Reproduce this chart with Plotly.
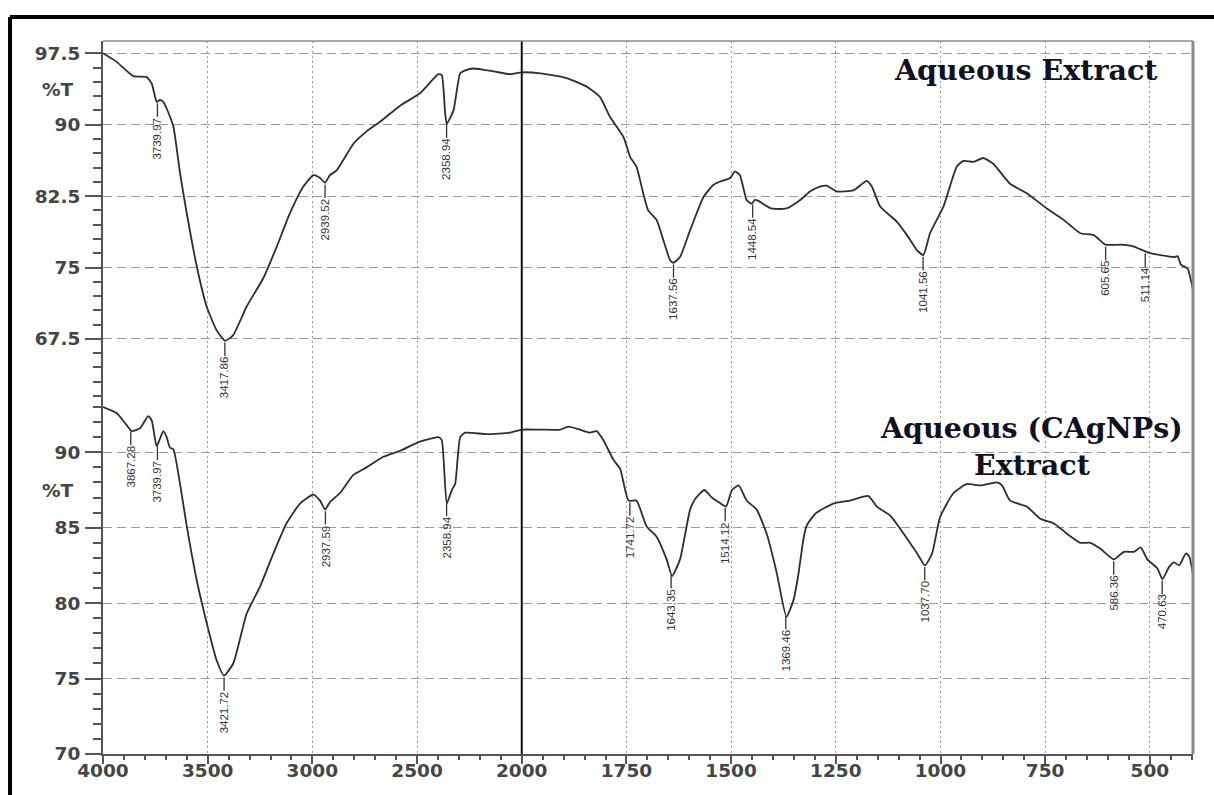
import numpy as np
import plotly.graph_objects as go

# ---------------- data ----------------
top_wn = [4000, 3935, 3855, 3791, 3767, 3752, 3744, 3728, 3712, 3696, 3664, 3632, 3600, 3552, 3505,
          3457, 3417, 3378, 3314, 3234, 3170, 3107, 3043, 2995, 2963, 2940, 2916, 2884, 2852, 2804,
          2741, 2677, 2581, 2486, 2398, 2382, 2366, 2358, 2326, 2294, 2270, 2231, 2135, 2055, 2000,
          1956, 1893, 1845, 1813, 1789, 1757, 1741, 1726, 1710, 1698, 1678, 1662, 1646, 1638, 1622,
          1598, 1566, 1542, 1522, 1502, 1491, 1479, 1463, 1451, 1443, 1435, 1404, 1368, 1335, 1311,
          1288, 1272, 1248, 1208, 1176, 1164, 1144, 1104, 1080, 1056, 1041, 1025, 993, 961, 945,
          921, 898, 874, 834, 794, 746, 706, 666, 634, 606, 570, 538, 506, 474, 442, 434, 426, 410, 397]
top_T = [97.5, 96.6, 95.1, 95.0, 94.3, 93.0, 92.4, 92.6, 92.4, 91.7, 89.8, 84.9, 80.7, 75.1, 70.9,
         68.4, 67.3, 67.9, 70.9, 73.9, 77.2, 80.7, 83.5, 84.7, 84.4, 83.9, 84.7, 85.2, 86.3, 88.0,
         89.3, 90.3, 92.0, 93.3, 95.3, 95.2, 91.2, 90.1, 91.5, 95.4, 95.7, 95.9, 95.6, 95.3, 95.5,
         95.4, 94.9, 94.0, 92.9, 90.8, 88.7, 86.6, 85.6, 82.8, 81.0, 80.0, 77.9, 75.8, 75.5, 76.1,
         78.9, 82.4, 83.7, 84.1, 84.4, 85.1, 84.7, 82.1, 81.7, 82.1, 82.0, 81.2, 81.2, 82.1, 83.0,
         83.5, 83.6, 83.0, 83.1, 84.1, 83.5, 81.4, 79.8, 78.4, 76.8, 76.3, 78.6, 81.4, 85.6, 86.2,
         86.1, 86.5, 85.9, 83.8, 82.8, 81.2, 80.0, 78.6, 78.4, 77.4, 77.4, 77.2, 76.6, 76.3, 76.1, 76.2, 75.3, 74.9, 72.6]

bot_wn = [4000, 3935, 3887, 3862, 3823, 3784, 3767, 3744, 3728, 3712, 3696, 3680, 3664, 3632, 3600,
          3552, 3505, 3457, 3422, 3378, 3314, 3250, 3186, 3123, 3059, 2995, 2963, 2939, 2916, 2868,
          2804, 2741, 2661, 2581, 2486, 2398, 2382, 2358, 2334, 2318, 2294, 2270, 2167, 2055, 2000,
          1956, 1908, 1889, 1861, 1837, 1821, 1805, 1781, 1765, 1745, 1726, 1702, 1678, 1654, 1641,
          1622, 1598, 1586, 1564, 1546, 1530, 1512, 1498, 1482, 1463, 1439, 1415, 1391, 1368, 1351,
          1340, 1327, 1320, 1303, 1296, 1256, 1216, 1172, 1152, 1120, 1088, 1056, 1037, 1020, 1001,
          969, 937, 905, 865, 853, 834, 794, 762, 730, 698, 666, 642, 618, 586, 562, 538, 522, 506,
          482, 470, 454, 442, 430, 414, 406, 397]
bot_T = [93.0, 92.6, 91.8, 91.4, 91.6, 92.4, 92.1, 90.4, 90.9, 91.4, 91.0, 90.3, 90.2, 87.9, 85.1,
         81.5, 78.7, 76.2, 75.2, 76.0, 79.3, 81.1, 83.3, 85.3, 86.6, 87.2, 86.8, 86.2, 86.7, 87.3,
         88.5, 89.0, 89.7, 90.1, 90.7, 91.0, 90.8, 86.6, 87.5, 87.9, 91.0, 91.3, 91.2, 91.3, 91.5,
         91.5, 91.5, 91.7, 91.5, 91.3, 91.4, 90.8, 89.5, 88.9, 86.8, 86.8, 85.1, 84.4, 82.9, 81.8,
         82.9, 86.2, 86.9, 87.5, 87.0, 86.7, 86.4, 87.5, 87.8, 86.8, 86.2, 84.6, 82.0, 79.1, 80.2,
         81.8, 84.3, 85.1, 85.8, 86.0, 86.6, 86.8, 87.1, 86.4, 85.8, 84.6, 83.3, 82.5, 83.3, 85.7,
         87.3, 87.9, 87.8, 88.0, 87.8, 86.8, 86.4, 85.6, 85.3, 84.6, 84.0, 84.0, 83.6, 82.9, 83.4, 83.4, 83.7, 82.9,
         82.3, 81.6, 82.4, 82.7, 82.5, 83.3, 83.1, 81.9]

top_peaks = [3739.97, 3417.86, 2939.52, 2358.94, 1637.56, 1448.54, 1041.56, 605.65, 511.14]
top_peak_labels = ["3739.97", "3417.86", "2939.52", "2358.94", "1637.56", "1448.54", "1041.56", "605.65", "511.14"]
bot_peaks = [3867.28, 3739.97, 3421.72, 2937.59, 2358.94, 1741.72, 1643.35, 1514.12, 1369.46, 1037.70, 586.36, 470.63]
bot_peak_labels = ["3867.28", "3739.97", "3421.72", "2937.59", "2358.94", "1741.72", "1643.35", "1514.12",
                   "1369.46", "1037.70", "586.36", "470.63"]

x_tick_labels = [4000, 3500, 3000, 2500, 2000, 1750, 1500, 1250, 1000, 750, 500]
top_y_ticks = [67.5, 75, 82.5, 90, 97.5]
top_y_ticktext = ["67.5", "75", "82.5", "90", "97.5"]
bot_y_ticks = [70, 75, 80, 85, 90]

title_top = "Aqueous Extract"
title_bot = "Aqueous (CAgNPs)<br>Extract"
y_label = "%T"


# split scale: 4000-2000 normal, below 2000 expanded 2x
def to_u(wn):
    wn = np.asarray(wn, dtype=float)
    return np.where(wn >= 2000, 4000 - wn, 2000 + 2 * (2000 - wn))


def interp_T(wn_list, T_list, w):
    return float(np.interp(w, np.array(wn_list)[::-1], np.array(T_list)[::-1]))


PEAK_SIZE = 11.5


def label_len(s):
    # approximate rendered length of a Liberation Sans label (digits 0.556em, dot 0.278em)
    return sum(0.278 if c == "." else 0.556 for c in s) * PEAK_SIZE


WN_MIN = 397
TICK_FONT = dict(family="DejaVu Sans", size=18.5, color="#454545", weight="bold")
LINE_COL = "#2e2e2e"

fig = go.Figure()
fig.add_trace(go.Scatter(x=to_u(top_wn), y=top_T, mode="lines",
                         line=dict(color=LINE_COL, width=1.8, shape="spline", smoothing=0.5),
                         xaxis="x", yaxis="y", showlegend=False))
fig.add_trace(go.Scatter(x=to_u(bot_wn), y=bot_T, mode="lines",
                         line=dict(color=LINE_COL, width=1.8, shape="spline", smoothing=0.5),
                         xaxis="x", yaxis="y2", showlegend=False))

annotations = []
peak_font = dict(family="Liberation Sans", size=PEAK_SIZE, color="#333")
for wn_list, T_list, peaks, labels, yref in [(top_wn, top_T, top_peaks, top_peak_labels, "y"),
                                             (bot_wn, bot_T, bot_peaks, bot_peak_labels, "y2")]:
    for p, lab in zip(peaks, labels):
        annotations.append(dict(
            x=float(to_u(p)), y=interp_T(wn_list, T_list, p), xref="x", yref=yref,
            text=lab, textangle=-90, showarrow=True, arrowhead=0, arrowwidth=1.3,
            arrowcolor="#333", ax=0, ay=16 + label_len(lab) / 2, standoff=2,
            font=peak_font, borderpad=0))

annotations.append(dict(x=-0.041, y=93.7, xref="paper", yref="y", text=y_label, showarrow=False,
                        font=TICK_FONT, xanchor="center", yanchor="middle"))
annotations.append(dict(x=-0.041, y=87.5, xref="paper", yref="y2", text=y_label, showarrow=False,
                        font=TICK_FONT, xanchor="center", yanchor="middle"))
title_font = dict(family="DejaVu Serif", size=28.5, color="#111122", weight="bold")
annotations.append(dict(x=0.847, y=0.960, xref="paper", yref="paper", text=title_top, showarrow=False,
                        font=title_font, xanchor="center", yanchor="middle"))
annotations.append(dict(x=0.852, y=0.431, xref="paper", yref="paper", text=title_bot, showarrow=False,
                        font=title_font, xanchor="center", yanchor="middle"))

u_max = float(to_u(WN_MIN))
shapes = [
    # vertical divider at 2000
    dict(type="line", xref="x", yref="paper", x0=float(to_u(2000)), x1=float(to_u(2000)), y0=0, y1=1,
         line=dict(color="#111", width=2)),
    # plot frame: top and right
    dict(type="line", xref="paper", yref="paper", x0=0, x1=1, y0=1, y1=1, line=dict(color="#8a8a8a", width=1.5)),
    dict(type="line", xref="paper", yref="paper", x0=1, x1=1, y0=0, y1=1, line=dict(color="#8a8a8a", width=3)),
    # outer black frame (top and left)
    dict(type="line", xref="paper", yref="paper", x0=-0.0853, x1=1.03, y0=1.0337, y1=1.0337,
         line=dict(color="#000", width=4)),
    dict(type="line", xref="paper", yref="paper", x0=-0.0853, x1=-0.0853, y0=-0.07, y1=1.0337,
         line=dict(color="#000", width=4)),
]

fig.update_layout(
    width=1214, height=795,
    margin=dict(l=103, r=21, t=41, b=41),
    paper_bgcolor="white", plot_bgcolor="white",
    annotations=annotations, shapes=shapes,
    xaxis=dict(
        range=[0, u_max], anchor="y2",
        tickvals=to_u(x_tick_labels).tolist(), ticktext=[str(v) for v in x_tick_labels],
        ticks="outside", ticklen=8, tickwidth=2, tickcolor="#555",
        showline=True, linecolor="#555", linewidth=2,
        showgrid=True, gridcolor="#9a9a9a", gridwidth=1.3, griddash="2px,3px",
        zeroline=False, tickfont=TICK_FONT, ticklabelstandoff=-9,
        minor=dict(ticks="outside", ticklen=4, tickwidth=2, tickcolor="#555", dtick=100, tick0=0, showgrid=False),
    ),
    yaxis=dict(
        domain=[0.4951, 1], range=[60.98, 98.79], anchor="x",
        tickvals=top_y_ticks, ticktext=top_y_ticktext,
        ticks="outside", ticklen=16, tickwidth=2, tickcolor="#555",
        showline=True, linecolor="#555", linewidth=2,
        showgrid=True, gridcolor="#9a9a9a", gridwidth=1.3, griddash="9px,5px",
        zeroline=False, tickfont=TICK_FONT, ticklabelstandoff=1,
        minor=dict(ticks="outside", ticklen=8, tickwidth=2, tickcolor="#555", dtick=1.5, tick0=0, showgrid=False),
    ),
    yaxis2=dict(
        domain=[0, 0.4951], range=[70, 93.4], anchor="x",
        tickvals=bot_y_ticks, ticktext=[str(v) for v in bot_y_ticks],
        ticks="outside", ticklen=16, tickwidth=2, tickcolor="#555",
        showline=True, linecolor="#555", linewidth=2,
        showgrid=True, gridcolor="#9a9a9a", gridwidth=1.3, griddash="9px,5px",
        zeroline=False, tickfont=TICK_FONT, ticklabelstandoff=1,
        minor=dict(ticks="outside", ticklen=8, tickwidth=2, tickcolor="#555", dtick=1, tick0=0, showgrid=False),
    ),
)

fig.write_html("out.html", config={"displayModeBar": False},
               post_script="document.body.style.margin='0';document.body.style.overflow='hidden';")
